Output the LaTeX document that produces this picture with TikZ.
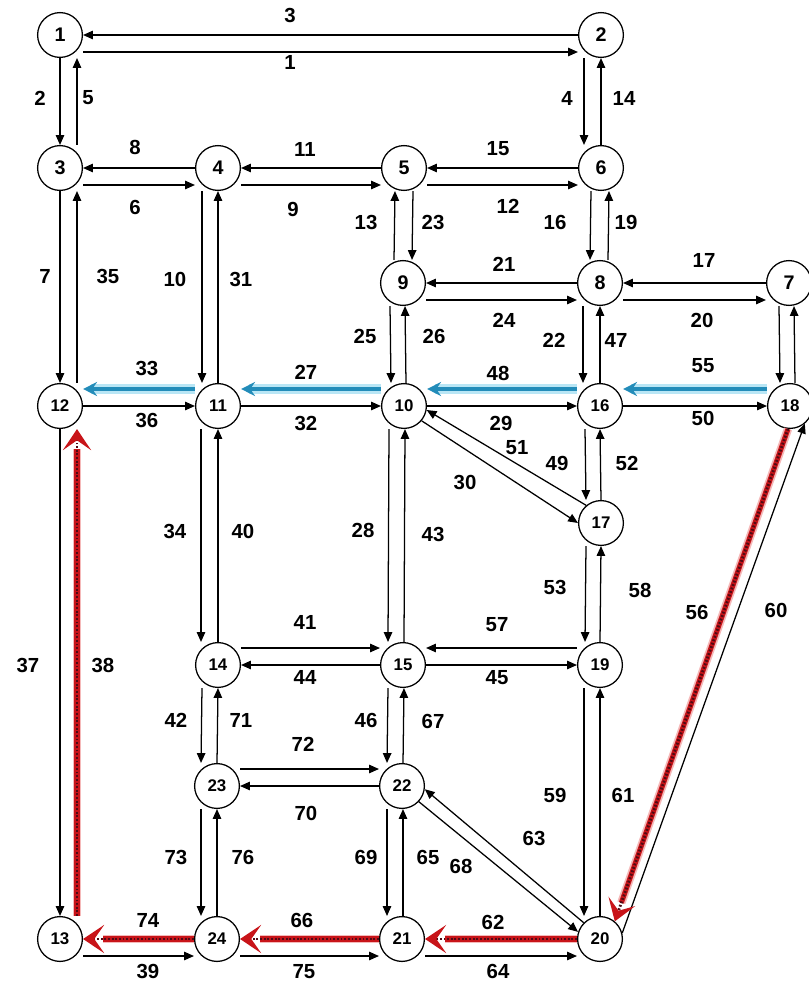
\documentclass[tikz,border=0pt]{standalone}
\usepackage{fontspec}
\setmainfont{Liberation Sans}
\usetikzlibrary{arrows.meta}
\definecolor{pathblue}{RGB}{35,140,185}
\definecolor{glowblue}{RGB}{185,230,245}
\definecolor{pathred}{RGB}{200,20,25}
\definecolor{darkred}{RGB}{80,10,20}
\definecolor{glowred}{RGB}{245,185,185}

\begin{document}
\begin{tikzpicture}[x=0.025cm,y=-0.025cm,
  stn/.style={circle,draw,line width=0.9pt,minimum size=1.12cm,inner sep=0pt,font=\fontsize{14}{16}\selectfont\bfseries},
  stnsmall/.style={stn,font=\fontsize{12}{14}\selectfont\bfseries},
  lbl/.style={font=\fontsize{14.5}{16}\selectfont\bfseries,inner sep=1pt},
  lnk/.style={line width=0.9pt,-{Triangle[length=7pt,width=6pt]}},
  blueglow/.style={line width=7pt,glowblue,shorten >=6pt},
  bluearc/.style={line width=3.2pt,pathblue,-{Stealth[length=10pt,width=10pt,inset=3.5pt]}},
  redglow/.style={line width=6pt,glowred,shorten >=14pt},
  redline/.style={line width=3.6pt,pathred,shorten >=14pt},
  reddots/.style={line width=2pt,darkred,dash pattern=on 1.3pt off 1.3pt,-{Stealth[length=15pt,width=20pt,inset=7pt,color=pathred]}}]
    \useasboundingbox (0,0) rectangle (809,987);
    % Stations of the network.
        \foreach \n/\x/\y in {1/60/35,2/601/35,3/60/168,4/218/168,5/404/168,6/601/168,7/789/283,8/600/283,9/403/283}
            \node[stn] (n\n) at (\x,\y) {\n};
        \foreach \n/\x/\y in {10/404/406,11/218/406,12/60/406,13/60/939,14/218/665,15/403/665,16/600/406,17/601/523,18/790/406,19/600/665,20/600/939,21/402/939,22/402/786,23/217/786,24/217/939}
            \node[stnsmall] (n\n) at (\x,\y) {\n};
    % Links going right and left.
        \foreach \a/\b/\s in {1/2/17,3/4/17,4/5/17,5/6/17,9/8/17,8/7/17,12/11/0,11/10/0,10/16/0,16/18/0,14/15/-17,15/19/0,23/22/-17,13/24/17,24/21/17,21/20/17}
            \draw[lnk] ([shift={(0,\s)}]n\a.east) -- ([shift={(0,\s)}]n\b.west);
        \foreach \a/\b/\s in {2/1/0,4/3/0,5/4/0,6/5/0,8/9/0,7/8/0,15/14/0,19/15/-17,22/23/0}
            \draw[lnk] ([shift={(0,\s)}]n\a.west) -- ([shift={(0,\s)}]n\b.east);
    % Links going down and up.
        \foreach \a/\b/\s in {1/3/0,2/6/-17,3/12/0,4/11/-16,5/9/9,6/8/-10,7/18/-10,9/10/-13,8/16/-17,12/13/0,11/14/-17,10/15/-15,16/17/-15,17/19/-15,14/23/-16,15/22/-15,19/20/-16,23/24/-16,22/21/-15}
            \draw[lnk] ([shift={(\s,0)}]n\a.south) -- ([shift={(\s,0)}]n\b.north);
        \foreach \a/\b/\s in {3/1/17,6/2/0,12/3/17,11/4/0,9/5/-9,8/6/8,18/7/5,10/9/2,16/8/0,14/11/0,15/10/1,17/16/0,19/17/0,23/14/0,22/15/1,20/19/0,24/23/0,21/22/1}
            \draw[lnk] ([shift={(\s,0)}]n\a.north) -- ([shift={(\s,0)}]n\b.south);
    % Diagonal links.
        \draw[lnk] (n10.-40) -- (n17.180);
        \draw[lnk] (n17.130) -- (n10.-10);
        \draw[lnk] (n22.-43) -- (n20.162);
        \draw[lnk] (n20.135) -- (n22.-8);
        \draw[lnk] (n20.15) -- (n18.-50);
    % Blue route.
        \foreach \a/\b in {18/16,16/10,10/11,11/12} {
            \draw[blueglow] ([shift={(0,-17)}]n\a.west) -- ([shift={(0,-17)}]n\b.east);
            \draw[bluearc] ([shift={(0,-17)}]n\a.west) -- ([shift={(0,-17)}]n\b.east);
        }
    % Red route.
        \foreach \p/\q in {n18.-95/n20.50,n20.west/n21.east,n21.west/n24.east,n24.west/n13.east} {
            \draw[redglow] (\p) -- (\q);
            \draw[redline] (\p) -- (\q);
            \draw[reddots] (\p) -- (\q);
        }
        \draw[redglow] ([shift={(17,0)}]n13.north) -- ([shift={(17,0)}]n12.south);
        \draw[redline] ([shift={(17,0)}]n13.north) -- ([shift={(17,0)}]n12.south);
        \draw[reddots] ([shift={(17,0)}]n13.north) -- ([shift={(17,0)}]n12.south);
    % Link numbers.
        \foreach \t/\x/\y in {3/290/15,1/290/62,2/40/98,5/88/98,4/567/98,14/624/98,8/135/147,6/135/207,11/305/149,9/293/209,15/498/149,12/508/206,13/366/222,23/433/222,16/555/222,19/626/222,7/45/276,35/108/276,10/175/279,31/241/279,21/504/264,17/704/260,24/504/320,20/702/320,25/365/336,26/434/336,22/554/340,47/616/340,33/147/368,36/147/420,27/306/372,32/306/423,48/498/373,29/501/423,55/703/366,50/703/418,51/517/448,49/557/463,30/465/482,52/627/463,34/175/531,40/243/531,28/363/530,43/433/534,53/555/587,58/640/590,56/697/612,60/776/610,57/497/625,45/497/678,41/305/622,44/305/677,37/28/665,38/103/665,42/176/720,71/241/720,46/366/720,67/433/721,72/303/744,70/306/813,59/555/795,61/623/795,63/534/838,73/176/857,76/243/857,69/366/857,65/428/857,68/461/866,74/148/920,39/148/971,66/302/920,75/304/972,62/493/922,64/498/971}
            \node[lbl] (e\t) at (\x,\y) {\t};
\end{tikzpicture}
\end{document}
